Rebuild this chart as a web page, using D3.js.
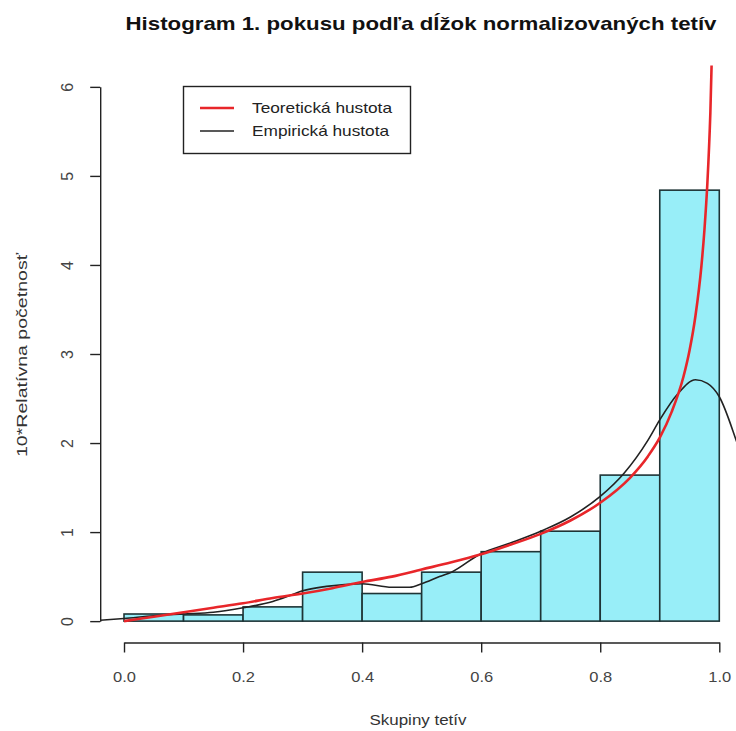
<!DOCTYPE html>
<html>
<head>
<meta charset="utf-8">
<script src="https://cdn.jsdelivr.net/npm/d3@7"></script>
<style>
  body { margin: 0; background: #fff; }
  text { font-family: "Liberation Sans", Arial, sans-serif; }
</style>
</head>
<body>
<div id="chart"></div>
<script>
// histogram classes (left edges) and bar heights
const binStarts = [0.0, 0.1, 0.2, 0.3, 0.4, 0.5, 0.6, 0.7, 0.8, 0.9];
const binHeights = [0.08, 0.07, 0.16, 0.55, 0.31, 0.55, 0.78, 1.01, 1.64, 4.84];

// theoretical density (red)
const theoX = [0, 0.05, 0.1, 0.15, 0.2, 0.25, 0.3, 0.35, 0.4, 0.45, 0.5, 0.55, 0.6, 0.65, 0.7, 0.75, 0.8, 0.85, 0.88, 0.9, 0.92, 0.94, 0.95, 0.96, 0.97, 0.975, 0.98, 0.985, 0.99];
const theoY = [0, 0.05, 0.10, 0.15, 0.20, 0.26, 0.31, 0.37, 0.44, 0.50, 0.58, 0.66, 0.75, 0.86, 0.98, 1.13, 1.33, 1.61, 1.85, 2.06, 2.35, 2.75, 3.04, 3.43, 3.99, 4.39, 4.92, 5.71, 7.0];

// empirical (kernel) density (black)
const empX = [-0.04, 0, 0.05, 0.1, 0.15, 0.2, 0.25, 0.28, 0.3, 0.34, 0.4, 0.45, 0.48, 0.5, 0.53, 0.55, 0.6, 0.65, 0.7, 0.75, 0.8, 0.84, 0.88, 0.9, 0.93, 0.96, 0.98, 1.0, 1.03, 1.06];
const empY = [0.01, 0.03, 0.06, 0.08, 0.10, 0.15, 0.22, 0.29, 0.34, 0.39, 0.42, 0.38, 0.38, 0.42, 0.50, 0.55, 0.76, 0.88, 1.01, 1.17, 1.40, 1.66, 2.03, 2.26, 2.55, 2.71, 2.67, 2.52, 2.0, 1.4];

const xTicks = [0, 0.2, 0.4, 0.6, 0.8, 1.0];
const yTicks = [0, 1, 2, 3, 4, 5, 6];
const binWidth = 0.1;

const legendLabels = ["Teoretická hustota", "Empirická hustota"];
const legendColors = ["#e8262a", "#222"];

const width = 736, height = 731;

// plot region like R: limits widened by 4%
let x = d3.scaleLinear().domain([-0.04, 1.04]).range([100.2, 743.1]);
let y = d3.scaleLinear().domain([-0.24, 6.24]).range([642.5, 65.5]);

let svg = d3.select("#chart").append("svg")
    .attr("width", width)
    .attr("height", height)
    .style("background", "#fff");

// stretch text horizontally, the picture is a bit wider than tall
function fit(sel, w) {
    sel.each(function () {
        let t = d3.select(this);
        let len = typeof w === "function" ? w(this.getComputedTextLength()) : w;
        t.attr("textLength", len).attr("lengthAdjust", "spacingAndGlyphs");
    });
}

svg.append("defs").append("clipPath").attr("id", "plot")
    .append("rect")
    .attr("x", x(-0.04)).attr("y", y(6.24))
    .attr("width", x(1.04) - x(-0.04))
    .attr("height", y(-0.24) - y(6.24));

// bars
svg.append("g").selectAll("rect")
    .data(binStarts)
    .join("rect")
    .attr("x", d => x(d))
    .attr("y", (d, i) => y(binHeights[i]))
    .attr("width", d => x(d + binWidth) - x(d))
    .attr("height", (d, i) => y(0) - y(binHeights[i]))
    .attr("fill", "#98eef8")
    .attr("stroke", "#1e3436")
    .attr("stroke-width", 1.6);

let plot = svg.append("g").attr("clip-path", "url(#plot)");

let line = d3.line().curve(d3.curveMonotoneX);

plot.append("path")
    .attr("d", line(empX.map((v, i) => [x(v), y(empY[i])])))
    .attr("fill", "none")
    .attr("stroke", "#222")
    .attr("stroke-width", 1.6);

plot.append("path")
    .attr("d", line(theoX.map((v, i) => [x(v), y(theoY[i])])))
    .attr("fill", "none")
    .attr("stroke", "#e8262a")
    .attr("stroke-width", 2.6);

// x axis
let xa = d3.scaleLinear().domain([0, 1]).range([x(0), x(1)]);
let gx = svg.append("g")
    .attr("transform", "translate(0," + y(-0.24) + ")")
    .call(d3.axisBottom(xa).tickValues(xTicks).tickFormat(d3.format(".1f"))
        .tickSize(10).tickSizeOuter(0).tickPadding(19));
gx.select(".domain").attr("stroke", "#222").attr("stroke-width", 1.4);
gx.selectAll(".tick line").attr("stroke", "#222").attr("stroke-width", 1.4);
gx.selectAll("text").attr("font-size", 15).attr("fill", "#444")
    .attr("font-family", "Liberation Sans, Arial, sans-serif")
    .call(fit, l => l * 1.1);

// y axis
let ya = d3.scaleLinear().domain([0, 6]).range([y(0), y(6)]);
let gy = svg.append("g")
    .attr("transform", "translate(" + x(-0.04) + ",0)")
    .call(d3.axisLeft(ya).tickValues(yTicks).tickFormat(d3.format("d"))
        .tickSize(10).tickSizeOuter(0));
gy.select(".domain").attr("stroke", "#222").attr("stroke-width", 1.4);
gy.selectAll(".tick line").attr("stroke", "#222").attr("stroke-width", 1.4);
gy.selectAll("text")
    .attr("x", null).attr("dy", null)
    .attr("transform", "translate(-33,0) rotate(-90)")
    .attr("text-anchor", "middle")
    .attr("dy", "0.35em")
    .attr("font-size", 16).attr("fill", "#444")
    .attr("font-family", "Liberation Sans, Arial, sans-serif");

// title and axis titles
svg.append("text")
    .attr("x", 421).attr("y", 30)
    .attr("text-anchor", "middle")
    .attr("font-size", 19).attr("font-weight", "bold").attr("fill", "#111")
    .text("Histogram 1. pokusu podľa dĺžok normalizovaných tetív")
    .call(fit, 591);

svg.append("text")
    .attr("x", 418).attr("y", 725)
    .attr("text-anchor", "middle")
    .attr("font-size", 14).attr("fill", "#333")
    .text("Skupiny tetív")
    .call(fit, 97);

svg.append("text")
    .attr("transform", "translate(27,355) rotate(-90)")
    .attr("text-anchor", "middle")
    .attr("font-size", 14).attr("fill", "#333")
    .text("10*Relatívna početnosť")
    .call(fit, 204);

// legend
let legend = svg.append("g");
legend.append("rect")
    .attr("x", 183.5).attr("y", 86.5)
    .attr("width", 227).attr("height", 67)
    .attr("fill", "#fff").attr("stroke", "#222").attr("stroke-width", 1.4);

let items = legend.selectAll(".item")
    .data(legendLabels)
    .join("g")
    .attr("class", "item")
    .attr("transform", (d, i) => "translate(0," + (108 + i * 23) + ")");

items.append("line")
    .attr("x1", 200).attr("x2", 234)
    .attr("stroke", (d, i) => legendColors[i])
    .attr("stroke-width", (d, i) => i === 0 ? 2.6 : 1.6);

items.append("text")
    .attr("x", 252).attr("dy", "0.35em")
    .attr("font-size", 15).attr("fill", "#222")
    .text(d => d)
    .call(fit, l => l * 1.15);
</script>
</body>
</html>
